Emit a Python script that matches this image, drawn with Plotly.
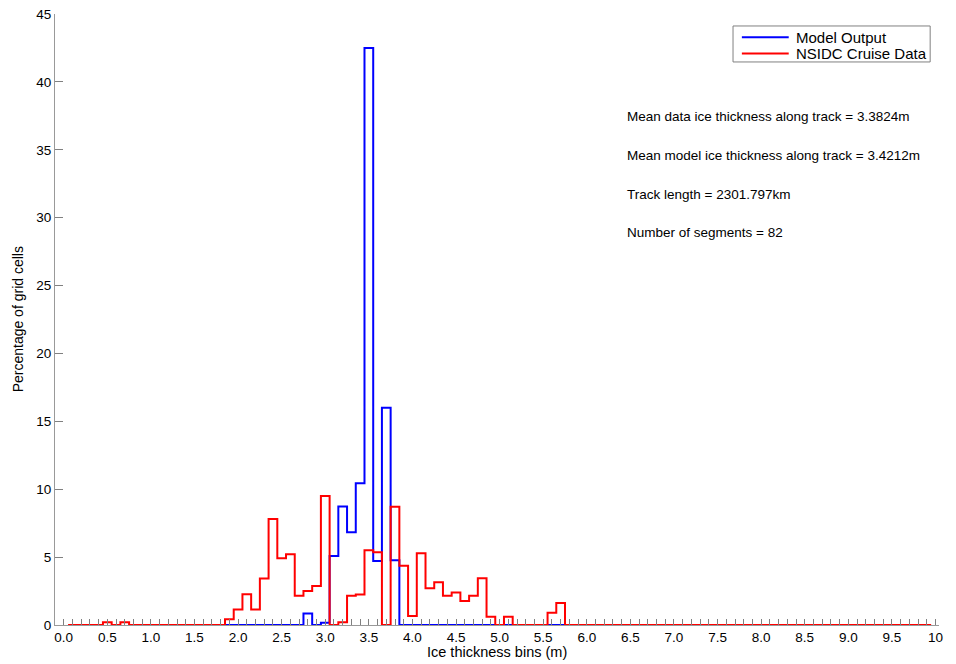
import numpy as np
import plotly.graph_objects as go

# bin centres (m) for each series, 0.1 m bins
nsidc_centres = [round(0.1 * k, 1) for k in range(1, 100)]   # 0.1 .. 9.9
model_centres = [round(0.1 * k, 1) for k in range(19, 58)]   # 1.9 .. 5.7

# percentage of grid cells per bin
nsidc_pct = [
    0, 0, 0, 0, 0.2, 0, 0.2, 0, 0, 0,                      # 0.1 - 1.0
    0, 0, 0, 0, 0, 0, 0, 0, 0.42, 1.15,                    # 1.1 - 2.0
    2.26, 1.15, 3.42, 7.81, 4.91, 5.21, 2.16, 2.5, 2.87, 9.51,  # 2.1 - 3.0
    0, 0.2, 2.16, 2.24, 5.5, 5.36, 0, 8.7, 4.37, 0.66,     # 3.1 - 4.0
    5.28, 2.7, 3.15, 2.16, 2.4, 1.77, 2.16, 3.44, 0.61, 0,  # 4.1 - 5.0
    0.61, 0, 0, 0, 0, 0.91, 1.62, 0, 0, 0,                 # 5.1 - 6.0
    0, 0, 0, 0, 0, 0, 0, 0, 0, 0,                          # 6.1 - 7.0
    0, 0, 0, 0, 0, 0, 0, 0, 0, 0,                          # 7.1 - 8.0
    0, 0, 0, 0, 0, 0, 0, 0, 0, 0,                          # 8.1 - 9.0
    0, 0, 0, 0, 0, 0, 0, 0, 0,                             # 9.1 - 9.9
]
model_pct = [
    0, 0, 0, 0, 0, 0, 0, 0, 0, 0.84,                       # 1.9 - 2.8
    0, 0.17, 5.09, 8.72, 6.83, 10.44, 42.5, 4.72, 16.0, 4.77,  # 2.9 - 3.8
    0, 0, 0, 0, 0, 0, 0, 0, 0, 0,                          # 3.9 - 4.8
    0, 0, 0, 0, 0, 0, 0, 0, 0,                             # 4.9 - 5.7
]

series_names = ["Model Output", "NSIDC Cruise Data"]
series_colors = ["#0000ff", "#ff0000"]

x_tick_labels = ["0.0", "0.5", "1.0", "1.5", "2.0", "2.5", "3.0", "3.5", "4.0", "4.5",
                 "5.0", "5.5", "6.0", "6.5", "7.0", "7.5", "8.0", "8.5", "9.0", "9.5", "10"]
y_tick_labels = ["0", "5", "10", "15", "20", "25", "30", "35", "40", "45"]

info_lines = [
    "Mean data ice thickness along track = 3.3824m",
    "Mean model ice thickness along track = 3.4212m",
    "Track length = 2301.797km",
    "Number of segments = 82",
]


def stairs(centres, vals, width=0.1):
    # edges of the bins, last value repeated so the final step is drawn
    edges = [c - width / 2 for c in centres] + [centres[-1] + width / 2]
    return edges, list(vals) + [vals[-1]]


FONT = "Liberation Sans, Arial, sans-serif"
TXT = 13.5

fig = go.Figure()

for (cen, pct), name, col in zip([(model_centres, model_pct), (nsidc_centres, nsidc_pct)],
                                 series_names, series_colors):
    sx, sy = stairs(cen, pct)
    fig.add_trace(go.Scatter(x=sx, y=sy, mode="lines", line_shape="hv",
                             line=dict(color=col, width=2), name=name, showlegend=False))

ann = []
for i, t in enumerate(info_lines):
    ann.append(dict(text=t, xref="paper", yref="paper", x=0.645, y=0.833 - i * 0.0638,
                    xanchor="left", yanchor="middle", showarrow=False,
                    font=dict(family=FONT, size=TXT, color="#000000")))

ann.append(dict(text="Ice thickness bins (m)", xref="paper", yref="paper",
                x=0.5, y=-0.044, xanchor="center", yanchor="middle", showarrow=False,
                font=dict(family=FONT, size=14.5, color="#000000")))
ann.append(dict(text="Percentage of grid cells", xref="paper", yref="paper",
                x=-0.042, y=0.5, xanchor="center", yanchor="middle", showarrow=False,
                textangle=-90, font=dict(family=FONT, size=14, color="#000000")))

# matlab style legend box, drawn by hand
shapes = [dict(type="rect", xref="paper", yref="paper", x0=0.767, x1=0.990, y0=0.9215, y1=0.9804,
               line=dict(color="#808080", width=1), fillcolor="#FFFFFF", layer="above")]
for i, (name, col) in enumerate(zip(series_names, series_colors)):
    ly = 0.962 - i * 0.0265
    shapes.append(dict(type="line", xref="paper", yref="paper", x0=0.777, x1=0.830, y0=ly, y1=ly,
                       line=dict(color=col, width=2), layer="above"))
    ann.append(dict(text=name, xref="paper", yref="paper", x=0.836, y=ly,
                    xanchor="left", yanchor="middle", showarrow=False,
                    font=dict(family=FONT, size=15, color="#000000")))

# page body has an 8px default margin, so the figure is 8px smaller than the window
fig.update_layout(
    width=948, height=656,
    margin=dict(l=47, r=17, t=6, b=39),
    plot_bgcolor="#FFFFFF", paper_bgcolor="#FFFFFF",
    font=dict(family=FONT, size=TXT, color="#000000"),
    annotations=ann, shapes=shapes,
    showlegend=False,
)

fig.update_xaxes(
    range=[-0.1, 10.04], automargin=False,
    tickvals=list(np.arange(0, 10.01, 0.5)), ticktext=x_tick_labels,
    ticks="inside", ticklen=6, tickcolor="#808080", tickwidth=1,
    minor=dict(dtick=0.1, tick0=0, ticks="inside", ticklen=6, tickcolor="#808080", tickwidth=1),
    showline=True, linecolor="#999999", linewidth=1,
    showgrid=False, zeroline=False,
    tickfont=dict(family=FONT, size=TXT, color="#000000"),
)
fig.update_yaxes(
    range=[0, 45], automargin=False,
    tickvals=list(range(0, 46, 5)), ticktext=y_tick_labels,
    ticks="inside", ticklen=8, tickcolor="#808080", tickwidth=1,
    showline=True, linecolor="#999999", linewidth=1,
    showgrid=False, zeroline=False, ticklabeloverflow="allow",
    tickfont=dict(family=FONT, size=TXT, color="#000000"),
)

fig.write_html("out.html")
